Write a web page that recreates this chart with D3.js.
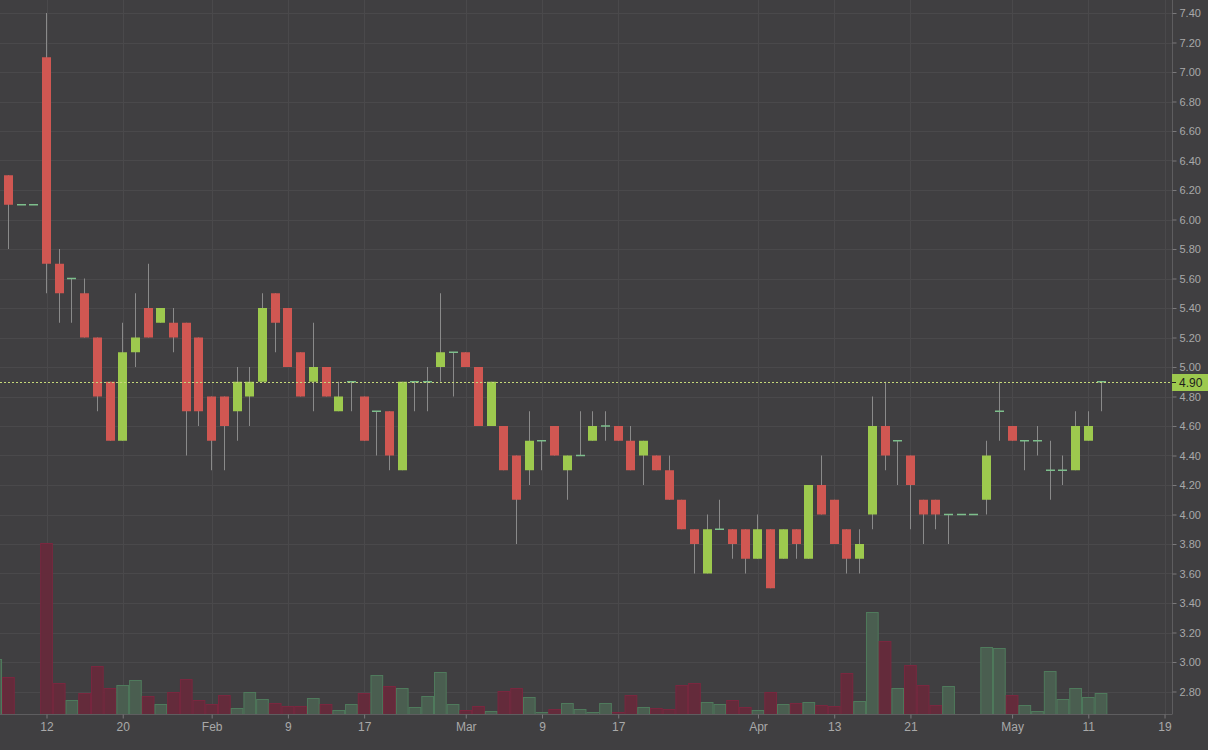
<!DOCTYPE html>
<html>
<head>
<meta charset="utf-8">
<script src="https://cdn.jsdelivr.net/npm/d3@7"></script>
<style>
  html, body { margin: 0; padding: 0; background: #403f41; }
  svg { display: block; }
  text { font-family: "Liberation Sans", Arial, sans-serif; }
</style>
</head>
<body>
<svg id="chart" width="1208" height="750"></svg>
<script>
// ---------------- DATA ----------------
// Trading calendar (ASX 2015): weekdays from first to last session, minus exchange holidays
const firstSession = "2015-01-06";
const lastSession = "2015-05-12";
const holidays = ["2015-01-26", "2015-04-03", "2015-04-06"];

const open  = [6.10,6.30,6.10,6.10,7.10,5.70,5.60,5.50,5.20,4.90,4.50,5.10,5.40,5.30,5.30,5.30,5.20,4.80,4.80,4.70,4.80,4.90,5.50,5.40,5.10,4.90,5.00,4.70,4.90,4.80,4.70,4.70,4.30,4.90,4.90,5.00,5.10,5.10,5.00,4.60,4.60,4.40,4.30,4.50,4.60,4.30,4.40,4.50,4.60,4.60,4.50,4.40,4.40,4.30,4.10,3.90,3.60,3.90,3.90,3.90,3.70,3.90,3.70,3.90,3.70,4.20,4.10,3.90,3.70,4.00,4.60,4.50,4.40,4.10,4.10,4.00,4.00,4.00,4.10,4.70,4.60,4.50,4.50,4.30,4.30,4.30,4.50,4.90];
const high  = [6.30,6.30,6.10,6.10,7.40,5.80,5.60,5.60,5.20,4.90,5.30,5.50,5.70,5.40,5.40,5.30,5.20,4.80,4.80,5.00,5.00,5.50,5.50,5.40,5.10,5.30,5.00,4.90,4.90,4.80,4.70,4.70,4.90,4.90,5.00,5.50,5.10,5.10,5.00,4.90,4.60,4.40,4.70,4.50,4.60,4.40,4.70,4.70,4.70,4.60,4.60,4.50,4.40,4.40,4.10,3.90,4.00,4.10,3.90,3.90,4.00,3.90,3.90,3.90,4.20,4.40,4.10,3.90,3.90,4.80,4.90,4.50,4.40,4.10,4.10,4.00,4.00,4.00,4.50,4.90,4.60,4.50,4.60,4.50,4.40,4.70,4.70,4.90];
const low   = [6.10,5.80,6.10,6.10,5.50,5.30,5.30,5.20,4.70,4.50,4.50,5.00,5.20,5.30,5.10,4.40,4.60,4.30,4.30,4.50,4.60,4.90,5.10,5.00,4.80,4.70,4.80,4.70,4.70,4.50,4.40,4.30,4.30,4.70,4.70,4.90,4.80,5.00,4.60,4.60,4.30,3.80,4.20,4.30,4.40,4.10,4.40,4.50,4.50,4.50,4.30,4.20,4.30,4.10,3.90,3.60,3.60,3.90,3.70,3.60,3.70,3.50,3.70,3.70,3.70,4.00,3.80,3.60,3.60,3.90,4.30,4.20,3.90,3.80,3.90,3.80,4.00,4.00,4.00,4.50,4.50,4.30,4.40,4.10,4.20,4.30,4.50,4.70];
const close = [6.30,6.10,6.10,6.10,5.70,5.50,5.60,5.20,4.80,4.50,5.10,5.20,5.20,5.40,5.20,4.70,4.70,4.50,4.60,4.90,4.90,5.40,5.30,5.00,4.80,5.00,4.80,4.80,4.90,4.50,4.70,4.40,4.90,4.90,4.90,5.10,5.10,5.00,4.60,4.90,4.30,4.10,4.50,4.50,4.40,4.40,4.40,4.60,4.60,4.50,4.30,4.50,4.30,4.10,3.90,3.80,3.90,3.90,3.80,3.70,3.90,3.50,3.90,3.80,4.20,4.00,3.80,3.70,3.80,4.60,4.40,4.50,4.20,4.00,4.00,4.00,4.00,4.00,4.40,4.70,4.50,4.50,4.50,4.30,4.30,4.60,4.60,4.90];
// volume, thousands of shares
const volume = [275,185,0,0,855,155,70,105,240,130,145,170,90,50,110,175,70,50,95,30,110,75,55,40,40,80,50,20,50,105,195,140,130,35,90,210,50,20,40,15,115,130,85,10,25,55,25,10,55,10,95,35,30,25,145,155,60,50,70,35,20,110,50,55,60,45,40,205,65,510,365,130,245,145,45,140,0,0,335,330,95,45,15,215,75,130,85,105];

const lastPrice = 4.90;
const priceTicks = d3.range(2.8, 7.41, 0.2).map(v => +v.toFixed(2));
const tickDates  = ["2015-01-12","2015-01-20","2015-02-01","2015-02-09","2015-02-17","2015-03-01","2015-03-09","2015-03-17","2015-04-01","2015-04-13","2015-04-21","2015-05-01","2015-05-11","2015-05-19"];
const tickLabels = ["12","20","Feb","9","17","Mar","9","17","Apr","13","21","May","11","19"];

// ---------------- CALENDAR ----------------
const parse = d3.utcParse("%Y-%m-%d");
const fmt = d3.utcFormat("%Y-%m-%d");
const isSession = d => d.getUTCDay() !== 0 && d.getUTCDay() !== 6 && !holidays.includes(fmt(d));
// sessions: data sessions followed by future sessions (for axis ticks beyond the data)
const sessions = d3.utcDay.range(parse(firstSession), d3.utcDay.offset(parse(lastSession), 14)).filter(isSession);
const sessionTimes = sessions.map(s => +s);
const nData = open.length;
const candles = d3.range(nData).map(i => ({
  date: sessions[i], o: open[i], h: high[i], l: low[i], c: close[i], v: volume[i], i
}));
// index of the last session on or before a date
const sessionIndex = d => d3.bisectRight(sessionTimes, +d) - 1;

// ---------------- LAYOUT ----------------
const W = 1208, H = 750;
const plotRight = 1172, plotBottom = 714.5;
const svg = d3.select("#chart");
svg.append("rect").attr("width", W).attr("height", H).attr("fill", "#403f41");

// session index -> pixel
const x = d3.scaleLinear().domain([0.34, 92.587]).range([0, plotRight]);
const step = x(1) - x(0);
const xd = d => x(sessionIndex(d));
const y = d3.scaleLinear().domain([2.8, 7.4]).range([691.5, 13]);
const yv = d3.scaleLinear().domain([0, d3.max(volume)]).range([plotBottom, 543.5]);
const cx = i => Math.floor(x(i)) + 0.5;

const defs = svg.append("defs");
defs.append("clipPath").attr("id", "plotClip").append("rect")
  .attr("x", 0).attr("y", 0).attr("width", plotRight).attr("height", plotBottom);

// grid
const grid = svg.append("g");
grid.selectAll("line.h").data(priceTicks).join("line")
  .attr("x1", 0).attr("x2", plotRight)
  .attr("y1", d => Math.round(y(d)) + 0.5).attr("y2", d => Math.round(y(d)) + 0.5)
  .attr("stroke", "#4a494b").attr("stroke-width", 1);
const tickData = tickDates.map((t, k) => ({ date: parse(t), label: tickLabels[k] }));
grid.selectAll("line.v").data(tickData).join("line")
  .attr("x1", d => Math.round(xd(d.date)) + 0.5).attr("x2", d => Math.round(xd(d.date)) + 0.5)
  .attr("y1", 0).attr("y2", plotBottom)
  .attr("stroke", "#4a494b").attr("stroke-width", 1);

const plot = svg.append("g").attr("clip-path", "url(#plotClip)");

// volume
const up = d => d.c >= d.o;
plot.append("g").selectAll("rect").data(candles.filter(d => d.v > 0)).join("rect")
  .attr("x", d => x(d.i) - step / 2 + 0.5)
  .attr("width", step - 1)
  .attr("y", d => yv(d.v))
  .attr("height", d => plotBottom - yv(d.v))
  .attr("fill", d => up(d) ? "#4a5e50" : "#642b3b")
  .attr("stroke", d => up(d) ? "#4f7a5c" : "#79273f")
  .attr("stroke-width", 1);

// wicks
plot.append("g").selectAll("line").data(candles.filter(d => d.h > d.l)).join("line")
  .attr("x1", d => cx(d.i)).attr("x2", d => cx(d.i))
  .attr("y1", d => y(d.h)).attr("y2", d => y(d.l))
  .attr("stroke", "#8a8a8a").attr("stroke-width", 1);

// bodies
const bodyW = 9;
plot.append("g").selectAll("rect").data(candles.filter(d => d.o !== d.c)).join("rect")
  .attr("x", d => cx(d.i) - bodyW / 2)
  .attr("width", bodyW)
  .attr("y", d => y(Math.max(d.o, d.c)))
  .attr("height", d => Math.abs(y(d.o) - y(d.c)))
  .attr("fill", d => d.c > d.o ? "#9dc94e" : "#d05752");

// doji (open == close)
plot.append("g").selectAll("line").data(candles.filter(d => d.o === d.c)).join("line")
  .attr("x1", d => cx(d.i) - bodyW / 2)
  .attr("x2", d => cx(d.i) + bodyW / 2)
  .attr("y1", d => y(d.c)).attr("y2", d => y(d.c))
  .attr("stroke", "#7dbf8c").attr("stroke-width", 1.5);

// last price line
const yl = Math.round(y(lastPrice)) + 0.5;
svg.append("line").attr("x1", 0).attr("x2", plotRight).attr("y1", yl).attr("y2", yl)
  .attr("stroke", "#c6d97a").attr("stroke-width", 1).attr("stroke-dasharray", "2,2");

// right price axis
const yAxis = svg.append("g").attr("transform", `translate(${plotRight + 0.5},0)`)
  .call(d3.axisRight(y).tickValues(priceTicks).tickFormat(d3.format(".2f")).tickSize(4).tickPadding(3));
yAxis.select(".domain").attr("d", `M0,0V${plotBottom}`).attr("stroke", "#5e5d5f");
yAxis.selectAll(".tick line").attr("stroke", "#7a797b");
yAxis.selectAll(".tick text").attr("fill", "#a9a9a9").style("font-size", "11px")
  .style("font-family", "'Liberation Sans', Arial, sans-serif");

// x axis
const xAxis = svg.append("g").attr("transform", `translate(0,${plotBottom})`)
  .call(d3.axisBottom(x)
    .tickValues(tickData.map(d => sessionIndex(d.date)))
    .tickFormat((d, k) => tickData[k].label).tickSize(4).tickPadding(4));
xAxis.select(".domain").attr("d", `M0,0H${plotRight}`).attr("stroke", "#5e5d5f");
xAxis.selectAll(".tick line").attr("stroke", "#7a797b");
xAxis.selectAll(".tick text").attr("fill", "#a9a9a9").style("font-size", "12px")
  .style("font-family", "'Liberation Sans', Arial, sans-serif");

// last price tag
const tag = svg.append("g").attr("transform", `translate(${plotRight},${yl})`);
tag.append("rect").attr("x", 0).attr("y", -8.5).attr("width", W - plotRight).attr("height", 17).attr("fill", "#9dc94e");
tag.append("line").attr("x1", 0).attr("x2", 4).attr("y1", 0).attr("y2", 0).attr("stroke", "#222").attr("stroke-width", 1);
tag.append("text").attr("x", 7).attr("y", 0).attr("dy", "0.35em")
  .attr("fill", "#1d1d1d").style("font-size", "12px").text(d3.format(".2f")(lastPrice));
</script>
</body>
</html>
